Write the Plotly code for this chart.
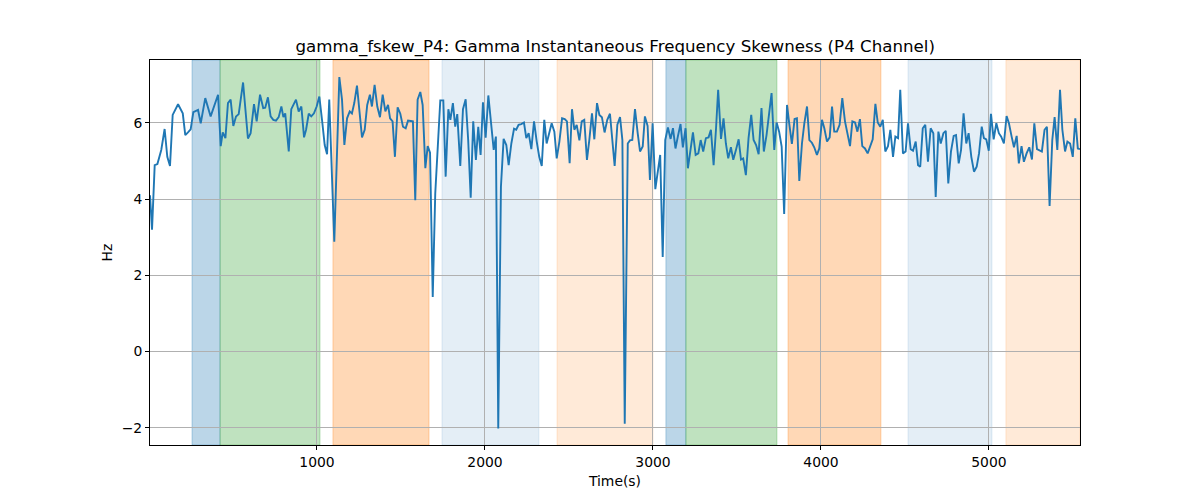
import plotly.graph_objects as go

# Time (s) and skewness values (Hz)
times = [6, 18, 34, 50, 73, 93, 109, 125, 141, 173, 201, 216, 232, 248, 264, 292, 308, 335, 367, 411,
         427, 439, 455, 470, 486, 502, 518, 534, 560, 589, 605, 625, 641, 661, 680, 692, 708, 724, 740, 756,
         772, 788, 800, 811, 832, 847, 875, 891, 907,
         923, 935, 951, 966, 982, 998, 1014, 1030, 1046, 1060, 1073, 1103, 1133, 1149, 1163, 1179, 1195, 1208,
         1222, 1238, 1252, 1268, 1284, 1299, 1315, 1327, 1343, 1359, 1375, 1391, 1407, 1423, 1435, 1450, 1464,
         1480, 1496, 1512, 1528, 1542, 1558, 1571, 1585, 1599, 1615, 1629, 1645, 1659, 1673, 1689, 1704, 1720,
         1734, 1752, 1766, 1782, 1794, 1809, 1823, 1835,
         1853, 1869, 1885, 1900, 1915, 1930, 1946, 1960, 1974, 1988, 2004, 2020, 2036, 2052, 2065, 2079, 2095,
         2111, 2127, 2141, 2157, 2173, 2186, 2200, 2216, 2232, 2246, 2260, 2276, 2292, 2308, 2323, 2338, 2353,
         2367, 2383, 2397, 2413, 2427, 2443, 2459, 2475, 2488, 2504, 2518, 2532, 2546, 2562, 2576, 2591, 2607,
         2621, 2637, 2651, 2667, 2681, 2696, 2712, 2728, 2744,
         2758, 2772, 2788, 2804, 2818, 2832, 2850, 2863, 2877, 2893, 2909, 2923, 2939, 2952, 2968, 2982, 2998,
         3014, 3030, 3043, 3058, 3073, 3089, 3105, 3119, 3134, 3148, 3164, 3178, 3194, 3208, 3224, 3238, 3254,
         3270, 3284, 3299, 3315, 3331, 3345, 3361, 3375, 3388, 3405, 3420, 3434, 3448, 3464, 3478, 3494, 3510,
         3524, 3537, 3553, 3569, 3585, 3599, 3614, 3629, 3646, 3660,
         3676, 3692, 3706, 3722, 3736, 3751, 3766, 3781, 3798, 3811, 3827, 3843, 3857, 3871, 3887, 3901, 3917,
         3931, 3946, 3960, 3976, 3990, 4006, 4020, 4036, 4052, 4066, 4079, 4095, 4111, 4127, 4143, 4157, 4173,
         4187, 4203, 4217, 4232, 4246, 4262, 4278, 4292, 4308, 4324, 4338, 4353, 4368, 4383, 4399, 4413, 4429,
         4443, 4459, 4472, 4488, 4504, 4518, 4534, 4548, 4564,
         4578, 4591, 4606, 4621, 4637, 4653, 4669, 4683, 4699, 4713, 4729, 4743, 4758, 4774, 4790, 4804, 4820,
         4834, 4849, 4865, 4879, 4895, 4911, 4927, 4941, 4957, 4970, 4984, 4999, 5012, 5028, 5044, 5059, 5073,
         5089, 5105, 5119, 5135, 5149, 5165, 5178, 5194, 5208, 5224, 5240, 5256, 5270, 5286, 5302, 5315, 5331,
         5345, 5361, 5377, 5391, 5407, 5423, 5437, 5453, 5467, 5483, 5499, 5514, 5529, 5542]

values = [4.10, 3.20, 4.89, 4.92, 5.29, 5.84, 5.11, 4.87, 6.21, 6.49, 6.25, 5.68, 5.75, 5.83, 6.28, 6.34, 5.99, 6.65, 6.17, 6.74,
          5.39, 5.75, 5.60, 6.52, 6.61, 5.92, 6.17, 6.23, 7.06, 5.59, 5.73, 6.49, 6.04, 6.74, 6.39, 6.40, 6.67, 6.17, 6.08, 6.06,
          6.15, 6.43, 6.15, 6.25, 5.25, 6.36, 6.61, 6.30, 6.43,
          5.62, 5.82, 6.24, 6.17, 6.25, 6.43, 6.69, 6.08, 5.42, 5.18, 6.61, 2.88, 7.20, 6.61, 5.42, 6.12, 6.30, 6.25,
          6.52, 6.98, 6.25, 5.62, 5.82, 6.47, 6.74, 6.43, 7.00, 6.43, 6.15, 6.74, 6.30, 6.47, 6.12, 6.04, 5.11,
          6.41, 6.24, 5.90, 5.86, 6.06, 6.05, 6.04, 3.97, 6.61, 6.81, 6.47, 4.81, 5.39, 5.22, 1.43, 4.15, 5.42,
          6.59, 6.59, 4.59, 6.36, 6.08, 6.52, 5.90, 6.23,
          4.87, 6.36, 6.62, 5.55, 4.04, 6.04, 5.03, 5.90, 5.16, 6.54, 5.61, 6.72, 5.99, 5.29, 5.64, -2.02, 4.32,
          5.58, 5.42, 4.89, 5.46, 5.85, 5.82, 5.95, 5.97, 6.01, 5.60, 5.73, 5.31, 6.04, 5.51, 5.11, 4.87, 6.08,
          5.46, 5.75, 5.99, 5.77, 5.07, 5.51, 6.12, 6.10, 6.04, 4.94, 6.36, 5.82, 5.95, 5.54, 6.04, 6.08, 5.03,
          5.55, 6.25, 5.57, 6.52, 6.21, 6.15, 5.75, 6.08, 6.24,
          5.55, 4.87, 5.95, 6.15, 5.55, -1.89, 5.46, 5.54, 5.55, 6.36, 5.73, 5.25, 5.38, 6.17, 5.92, 4.50, 5.99,
          4.26, 4.76, 5.16, 2.48, 5.55, 5.88, 5.58, 5.86, 5.33, 5.64, 5.97, 5.36, 5.86, 4.81, 5.36, 5.75, 5.16,
          5.20, 5.55, 5.25, 5.60, 5.62, 5.82, 4.89, 5.82, 6.87, 5.58, 6.12, 5.46, 5.07, 5.36, 5.03, 5.29, 5.57,
          5.04, 5.07, 4.63, 5.60, 6.21, 5.55, 5.42, 5.18, 6.39, 5.25,
          5.68, 6.21, 6.78, 5.29, 6.01, 5.77, 5.38, 3.61, 6.47, 5.99, 5.45, 6.10, 6.12, 4.48, 5.46, 5.99, 6.43,
          5.55, 5.48, 5.36, 5.16, 5.33, 6.08, 5.86, 5.51, 5.62, 6.43, 5.77, 5.77, 5.95, 6.65, 6.04, 5.77, 5.39,
          6.04, 6.01, 5.77, 6.10, 5.39, 5.33, 5.20, 5.36, 5.57, 6.50, 6.01, 5.90, 6.08, 5.25, 5.39, 5.82, 5.11,
          5.64, 5.60, 6.87, 5.20, 5.25, 5.99, 5.31, 5.27, 5.51,
          4.89, 4.85, 5.86, 5.95, 4.98, 5.86, 5.73, 4.06, 5.77, 5.46, 5.73, 5.79, 4.41, 5.25, 5.66, 5.68, 4.94,
          5.29, 6.25, 5.46, 5.73, 5.11, 4.72, 4.85, 5.20, 5.90, 5.60, 5.57, 5.27, 6.24, 5.57, 5.99, 5.73, 5.64,
          5.46, 6.18, 5.99, 5.64, 5.36, 5.66, 4.94, 5.39, 4.98, 5.20, 5.36, 5.04, 5.99, 5.31, 5.27, 5.25, 5.82,
          5.90, 3.82, 5.55, 6.15, 5.29, 6.87, 5.82, 5.25, 5.51, 5.46, 5.11, 6.12, 5.33, 5.31]

# Shaded intervals (start, end, colour)
span_starts = [256, 423, 1095, 1744, 2429, 3077, 3196, 3804, 4518, 5101]
span_ends = [423, 1018, 1667, 2321, 3000, 3196, 3738, 4357, 5018, 5542]
span_colors = ["rgba(31,119,180,0.3)", "rgba(44,160,44,0.3)", "rgba(255,127,14,0.3)",
               "rgba(31,119,180,0.12)", "rgba(255,127,14,0.16)",
               "rgba(31,119,180,0.3)", "rgba(44,160,44,0.3)", "rgba(255,127,14,0.3)",
               "rgba(31,119,180,0.12)", "rgba(255,127,14,0.16)"]

FONT = "DejaVu Sans, Liberation Sans, sans-serif"

fig = go.Figure()
fig.add_trace(go.Scatter(x=times, y=values, mode="lines",
                         line=dict(color="#1f77b4", width=1.9), showlegend=False))

for s, e, c in zip(span_starts, span_ends, span_colors):
    fig.add_shape(type="rect", x0=s, x1=e, y0=0, y1=1, xref="x", yref="paper",
                  fillcolor=c, line=dict(color=c, width=1), layer="between")

fig.update_layout(
    width=1200, height=500,
    margin=dict(l=142, r=128, t=52, b=63),
    paper_bgcolor="white", plot_bgcolor="white",
    font=dict(family=FONT, size=13.9, color="black"),
    title=dict(text="gamma_fskew_P4: Gamma Instantaneous Frequency Skewness (P4 Channel)",
               x=0.506, xanchor="center", y=0.924, yanchor="middle", yref="container",
               font=dict(family=FONT, size=16.67, color="black")),
)
fig.update_xaxes(range=[6, 5542], tickvals=[1000, 2000, 3000, 4000, 5000],
                 showgrid=True, gridcolor="#b0b0b0", gridwidth=0.8,
                 showline=True, linecolor="black", linewidth=1, mirror=True,
                 ticks="outside", ticklen=4, tickcolor="black", zeroline=False,
                 tickfont=dict(family=FONT, size=13.9),
                 title=dict(text="Time(s)", standoff=7, font=dict(family=FONT, size=13.9)))
fig.update_yaxes(range=[-2.45, 7.65], tickvals=[-2, 0, 2, 4, 6],
                 showgrid=True, gridcolor="#b0b0b0", gridwidth=0.8,
                 showline=True, linecolor="black", linewidth=1, mirror=True,
                 ticks="outside", ticklen=4, tickcolor="black", zeroline=False,
                 tickfont=dict(family=FONT, size=13.9),
                 title=dict(text="Hz", standoff=5, font=dict(family=FONT, size=13.9)))

fig.write_html("out.html")
